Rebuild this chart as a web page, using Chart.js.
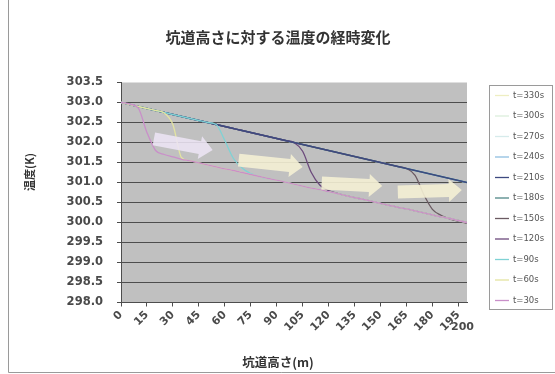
<!DOCTYPE html>
<html>
<head>
<meta charset="utf-8">
<script src="https://cdn.jsdelivr.net/npm/chart.js@4/dist/chart.umd.min.js"></script>
<style>
  html, body { margin: 0; padding: 0; background: #ffffff; }
  #wrap { width: 555px; height: 374px; }
</style>
</head>
<body>
<div id="wrap"><canvas id="c" width="555" height="374"></canvas></div>
<script>
// Tunnel height (m) at which temperature is sampled
const heights = [0, 5, 10, 15, 20, 25, 30, 35, 40, 45, 50, 55, 60, 65, 70, 75, 80, 85, 90, 95, 100,
                 105, 110, 115, 120, 125, 130, 135, 140, 145, 150, 155, 160, 165, 170, 175, 180, 185, 190, 195, 200];

// Temperature profiles (K) for each elapsed time
const t30 = [303.00, 302.96, 302.86, 302.25, 301.80, 301.70, 301.64, 301.58, 301.54, 301.49, 301.44,
             301.39, 301.34, 301.30, 301.25, 301.20, 301.15, 301.10, 301.06, 301.01, 300.96,
             300.91, 300.86, 300.82, 300.77, 300.72, 300.67, 300.62, 300.58, 300.53, 300.48,
             300.43, 300.38, 300.34, 300.29, 300.24, 300.19, 300.14, 300.10, 300.05, 300.00];
const t60 = [303.00, 302.95, 302.90, 302.85, 302.80, 302.74, 302.45, 301.62, 301.54, 301.49, 301.44,
             301.39, 301.34, 301.30, 301.25, 301.20, 301.15, 301.10, 301.06, 301.01, 300.96,
             300.91, 300.86, 300.82, 300.77, 300.72, 300.67, 300.62, 300.58, 300.53, 300.48,
             300.43, 300.38, 300.34, 300.29, 300.24, 300.19, 300.14, 300.10, 300.05, 300.00];
const t90 = [303.00, 302.95, 302.90, 302.85, 302.80, 302.75, 302.70, 302.65, 302.60, 302.55, 302.50,
             302.45, 302.05, 301.60, 301.36, 301.22, 301.15, 301.10, 301.06, 301.01, 300.96,
             300.91, 300.86, 300.82, 300.77, 300.72, 300.67, 300.62, 300.58, 300.53, 300.48,
             300.43, 300.38, 300.34, 300.29, 300.24, 300.19, 300.14, 300.10, 300.05, 300.00];
const t120 = [303.00, 302.95, 302.90, 302.85, 302.80, 302.75, 302.70, 302.65, 302.60, 302.55, 302.50,
              302.45, 302.40, 302.35, 302.30, 302.25, 302.20, 302.15, 302.10, 302.05, 302.00,
              301.78, 301.25, 300.93, 300.80, 300.73, 300.67, 300.62, 300.58, 300.53, 300.48,
              300.43, 300.38, 300.34, 300.29, 300.24, 300.19, 300.14, 300.10, 300.05, 300.00];
const t150 = [303.00, 302.95, 302.90, 302.85, 302.80, 302.75, 302.70, 302.65, 302.60, 302.55, 302.50,
              302.45, 302.40, 302.35, 302.30, 302.25, 302.20, 302.15, 302.10, 302.05, 302.00,
              301.95, 301.90, 301.85, 301.80, 301.75, 301.70, 301.65, 301.60, 301.55, 301.50,
              301.45, 301.40, 301.35, 301.18, 300.70, 300.33, 300.18, 300.09, 300.03, 299.98];
const t180 = [303.00, 302.95, 302.90, 302.85, 302.80, 302.75, 302.70, 302.65, 302.60, 302.55, 302.50,
              302.45, 302.40, 302.35, 302.30, 302.25, 302.20, 302.15, 302.10, 302.05, 302.00,
              301.95, 301.90, 301.85, 301.80, 301.75, 301.70, 301.65, 301.60, 301.55, 301.50,
              301.45, 301.40, 301.35, 301.30, 301.25, 301.20, 301.15, 301.10, 301.05, 301.00];
const t210 = [303.00, 302.95, 302.90, 302.85, 302.80, 302.75, 302.70, 302.65, 302.60, 302.55, 302.50,
              302.45, 302.40, 302.35, 302.30, 302.25, 302.20, 302.15, 302.10, 302.05, 302.00,
              301.95, 301.90, 301.85, 301.80, 301.75, 301.70, 301.65, 301.60, 301.55, 301.50,
              301.45, 301.40, 301.35, 301.30, 301.25, 301.20, 301.15, 301.10, 301.05, 301.00];
const t240 = [303.00, 302.95, 302.90, 302.85, 302.80, 302.75, 302.70, 302.65, 302.60, 302.55, 302.50,
              302.45, 302.40, 302.35, 302.30, 302.25, 302.20, 302.15, 302.10, 302.05, 302.00,
              301.95, 301.90, 301.85, 301.80, 301.75, 301.70, 301.65, 301.60, 301.55, 301.50,
              301.45, 301.40, 301.35, 301.30, 301.25, 301.20, 301.15, 301.10, 301.05, 301.00];
const t270 = [303.00, 302.95, 302.90, 302.85, 302.80, 302.75, 302.70, 302.65, 302.60, 302.55, 302.50,
              302.45, 302.40, 302.35, 302.30, 302.25, 302.20, 302.15, 302.10, 302.05, 302.00,
              301.95, 301.90, 301.85, 301.80, 301.75, 301.70, 301.65, 301.60, 301.55, 301.50,
              301.45, 301.40, 301.35, 301.30, 301.25, 301.20, 301.15, 301.10, 301.05, 301.00];
const t300 = [303.00, 302.95, 302.90, 302.85, 302.80, 302.75, 302.70, 302.65, 302.60, 302.55, 302.50,
              302.45, 302.40, 302.35, 302.30, 302.25, 302.20, 302.15, 302.10, 302.05, 302.00,
              301.95, 301.90, 301.85, 301.80, 301.75, 301.70, 301.65, 301.60, 301.55, 301.50,
              301.45, 301.40, 301.35, 301.30, 301.25, 301.20, 301.15, 301.10, 301.05, 301.00];
const t330 = [303.00, 302.95, 302.90, 302.85, 302.80, 302.75, 302.70, 302.65, 302.60, 302.55, 302.50,
              302.45, 302.40, 302.35, 302.30, 302.25, 302.20, 302.15, 302.10, 302.05, 302.00,
              301.95, 301.90, 301.85, 301.80, 301.75, 301.70, 301.65, 301.60, 301.55, 301.50,
              301.45, 301.40, 301.35, 301.30, 301.25, 301.20, 301.15, 301.10, 301.05, 301.00];

const seriesLabels = ['t=30s', 't=60s', 't=90s', 't=120s', 't=150s', 't=180s',
                      't=210s', 't=240s', 't=270s', 't=300s', 't=330s'];
const seriesValues = [t30, t60, t90, t120, t150, t180, t210, t240, t270, t300, t330];

// Axis tick labels
const xTickValues = [0, 15, 30, 45, 60, 75, 90, 105, 120, 135, 150, 165, 180, 195];
const xEndLabel = '200';
const yMin = 298.0, yMax = 303.5, yStep = 0.5;

// Annotation arrows showing the front moving up the shaft: [fromX, fromT, toX, toT]
const frontArrows = [
  [19, 302.09, 53, 301.81],
  [68, 301.56, 105, 301.39],
  [116, 300.99, 151, 300.91],
  [160, 300.76, 197, 300.81]
];

const lineColors = ['#c98fc9', '#e4e4a0', '#7fd2d4', '#6c4a7c', '#6b5a62', '#4f8787',
                    '#3e4a80', '#8fbfe0', '#d6ebeb', '#dbeedb', '#eeeec2'];
// lower order is drawn on top
const drawOrder = [-3, -2, -1, 1, 1, 5, 0, 6, 7, 8, 9];

const datasets = seriesLabels.map((lab, i) => ({
  label: lab,
  data: heights.map((h, k) => ({ x: h, y: seriesValues[i][k] })),
  borderColor: lineColors[i],
  backgroundColor: lineColors[i],
  borderWidth: 1.3,
  pointRadius: 0,
  cubicInterpolationMode: 'monotone',
  fill: false,
  order: drawOrder[i]
}));

const TEXT = '#4a4a4a';

const decorations = {
  id: 'decorations',
  beforeDraw(chart) {
    const { ctx, chartArea: a } = chart;
    ctx.save();
    ctx.fillStyle = '#ffffff';
    ctx.fillRect(0, 0, chart.width, chart.height);
    ctx.fillStyle = '#c0c0c0';
    ctx.fillRect(a.left, a.top, a.right - a.left, a.bottom - a.top);
    // outer frame
    ctx.strokeStyle = '#9a9a9a';
    ctx.lineWidth = 1;
    ctx.beginPath();
    ctx.moveTo(8.5, 0); ctx.lineTo(8.5, 372.5); ctx.lineTo(555, 372.5);
    ctx.stroke();
    ctx.restore();
  },
  afterDatasetsDraw(chart) {
    const { ctx, scales: { x, y } } = chart;
    ctx.save();
    frontArrows.forEach((arr, i) => {
      const x0 = x.getPixelForValue(arr[0]), y0 = y.getPixelForValue(arr[1]);
      const x1 = x.getPixelForValue(arr[2]), y1 = y.getPixelForValue(arr[3]);
      const ang = Math.atan2(y1 - y0, x1 - x0);
      const len = Math.hypot(x1 - x0, y1 - y0);
      const bw = 6.5, hw = 11.5, hl = 13;
      ctx.save();
      ctx.translate(x0, y0);
      ctx.rotate(ang);
      ctx.beginPath();
      ctx.moveTo(0, -bw);
      ctx.lineTo(len - hl, -bw);
      ctx.lineTo(len - hl, -hw);
      ctx.lineTo(len, 0);
      ctx.lineTo(len - hl, hw);
      ctx.lineTo(len - hl, bw);
      ctx.lineTo(0, bw);
      ctx.closePath();
      ctx.fillStyle = i === 0 ? 'rgba(236,228,244,0.88)' : 'rgba(244,240,212,0.9)';
      ctx.fill();
      ctx.restore();
    });
    ctx.restore();
  },
  afterDraw(chart) {
    const { ctx, scales: { x } } = chart;
    ctx.save();
    ctx.fillStyle = '#333333';
    ctx.textAlign = 'center';
    ctx.textBaseline = 'middle';
    ctx.font = 'bold 15px "Noto Sans CJK JP"';
    ctx.fillText('坑道高さに対する温度の経時変化', 278, 37);
    ctx.font = 'bold 12.5px "Noto Sans CJK JP"';
    ctx.fillText('坑道高さ(m)', 278, 362);
    ctx.save();
    ctx.translate(30, 172);
    ctx.rotate(-Math.PI / 2);
    ctx.font = 'bold 11px "Noto Sans CJK JP"';
    ctx.fillText('温度(K)', 0, 0);
    ctx.restore();

    // last height label sits flat at the end of the axis
    ctx.fillStyle = TEXT;
    ctx.font = 'bold 11px "DejaVu Sans"';
    ctx.textAlign = 'left';
    ctx.fillText(xEndLabel, x.getPixelForValue(200) - 16, 327);

    // legend, newest first
    const lx = 489.5, ly = 85.5, lw = 63, lh = 224;
    ctx.strokeStyle = '#9a9a9a';
    ctx.lineWidth = 1;
    ctx.strokeRect(lx, ly, lw, lh);
    ctx.font = '8.5px "DejaVu Sans"';
    ctx.textAlign = 'left';
    const n = chart.data.datasets.length;
    for (let k = 0; k < n; k++) {
      const ds = chart.data.datasets[n - 1 - k];
      const yy = 95.5 + k * 20.5;
      ctx.strokeStyle = ds.borderColor;
      ctx.lineWidth = 1.3;
      ctx.beginPath();
      ctx.moveTo(495, yy); ctx.lineTo(509, yy);
      ctx.stroke();
      ctx.fillStyle = '#555555';
      ctx.fillText(ds.label, 513, yy);
    }
    ctx.restore();
  }
};

new Chart(document.getElementById('c'), {
  type: 'line',
  data: { datasets },
  options: {
    responsive: false,
    animation: false,
    events: [],
    layout: { padding: { top: 82.5, right: 88, left: 0, bottom: 0 } },
    plugins: { legend: { display: false }, title: { display: false }, tooltip: { enabled: false } },
    scales: {
      x: {
        type: 'linear',
        min: 0, max: 200,
        afterBuildTicks(s) { s.ticks = xTickValues.map(v => ({ value: v })); },
        afterFit(s) { s.height = 71.5; s.paddingLeft = 0; s.paddingRight = 0; },
        grid: { drawOnChartArea: false, drawTicks: true, tickLength: 4, tickColor: '#4d4d4d' },
        border: { color: '#4d4d4d', width: 1 },
        ticks: {
          autoSkip: false, minRotation: 45, maxRotation: 45, padding: 2,
          color: TEXT, font: { family: 'DejaVu Sans', size: 11, weight: 'bold' }
        }
      },
      y: {
        min: yMin, max: yMax,
        afterBuildTicks(s) {
          const t = [];
          for (let v = yMin; v <= yMax + 1e-9; v += yStep) t.push({ value: Math.round(v * 10) / 10 });
          s.ticks = t;
        },
        afterFit(s) { s.width = 121; s.paddingTop = 0; s.paddingBottom = 0; },
        grid: {
          color: c => (c.tick && c.tick.value === yMax) ? 'rgba(0,0,0,0)' : '#4d4d4d',
          tickColor: '#4d4d4d', tickLength: 4, lineWidth: 1
        },
        border: { color: '#4d4d4d', width: 1 },
        ticks: {
          padding: 14,
          color: TEXT, font: { family: 'DejaVu Sans', size: 11.5, weight: 'bold' },
          callback: v => Number(v).toFixed(1)
        }
      }
    }
  },
  plugins: [decorations]
});
</script>
</body>
</html>
